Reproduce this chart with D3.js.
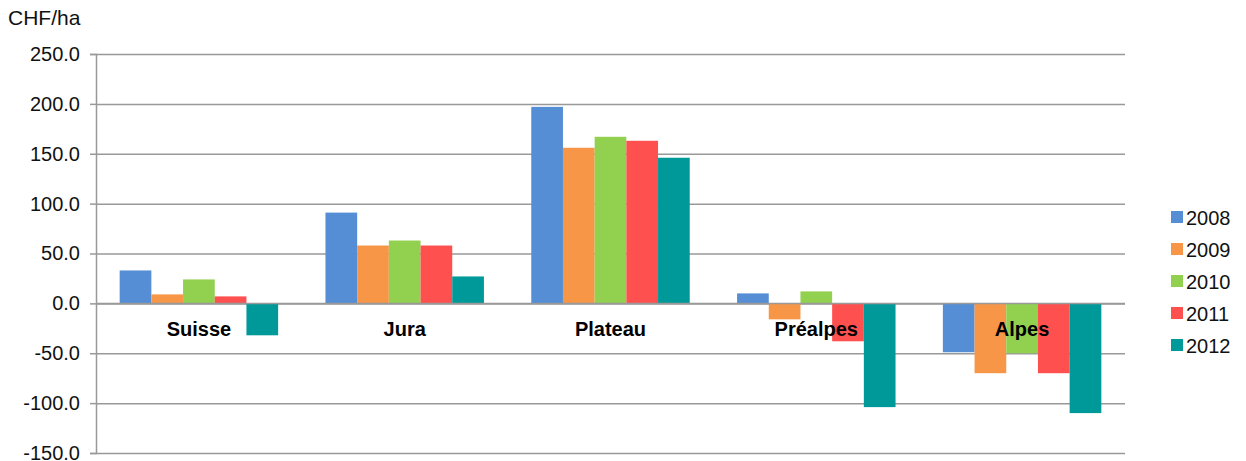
<!DOCTYPE html>
<html>
<head>
<meta charset="utf-8">
<style>
  body { margin: 0; background: #fff; font-family: 'Liberation Sans', Arial, sans-serif; }
  .grid line { stroke: #999; stroke-width: 1.5px; }
  .grid .domain { display: none; }
  .y .tick text { font-size: 20px; fill: #111; }
  .y .tick line { stroke: #999; stroke-width: 1.5px; }
  .y .domain { stroke: #999; stroke-width: 1.5px; }
  .cat { font-size: 20px; font-weight: bold; fill: #000; }
  .legend text { font-size: 20px; fill: #111; }
</style>
</head>
<body>
<svg width="1246" height="461"></svg>
<script src="https://d3js.org/d3.v7.min.js"></script>
<script>
  // data
  const regions = ["Suisse", "Jura", "Plateau", "Préalpes", "Alpes"];
  const years = ["2008", "2009", "2010", "2011", "2012"];
  const colors = ["#558ED5", "#F79646", "#92D050", "#FF5050", "#009999"];
  const v2008 = [33, 91, 197, 10, -49];
  const v2009 = [9, 58, 156, -16, -70];
  const v2010 = [24, 63, 167, 12, -50];
  const v2011 = [7, 58, 163, -38, -70];
  const v2012 = [-32, 27, 146, -104, -110];
  const yTicks = [-150, -100, -50, 0, 50, 100, 150, 200, 250];

  const series = [v2008, v2009, v2010, v2011, v2012];

  const svg = d3.select("svg");
  const margin = { top: 54, right: 121, bottom: 8, left: 96 };
  const width = 1246, height = 461;

  const x = d3.scaleBand()
    .domain(regions)
    .range([margin.left, width - margin.right])
    .paddingInner(0.23)
    .paddingOuter(0.115);

  const xs = d3.scaleBand()
    .domain(years)
    .range([0, x.bandwidth()]);

  const y = d3.scaleLinear()
    .domain([-150, 250])
    .range([height - margin.bottom, margin.top]);

  // gridlines
  svg.append("g")
    .attr("class", "grid")
    .attr("transform", `translate(${margin.left},0)`)
    .call(d3.axisRight(y).tickValues(yTicks).tickSize(width - margin.right - margin.left).tickFormat(""));

  // bars
  const groups = svg.append("g")
    .selectAll("g")
    .data(regions)
    .join("g")
    .attr("transform", d => `translate(${x(d)},0)`);

  groups.selectAll("rect")
    .data((d, i) => years.map((yr, j) => ({ yr, v: series[j][i], j })))
    .join("rect")
    .attr("x", d => xs(d.yr))
    .attr("width", xs.bandwidth())
    .attr("y", d => y(Math.max(0, d.v)))
    .attr("height", d => Math.abs(y(d.v) - y(0)))
    .attr("fill", d => colors[d.j]);

  // zero line on top
  svg.append("line")
    .attr("x1", margin.left).attr("x2", width - margin.right)
    .attr("y1", y(0)).attr("y2", y(0))
    .style("stroke", "#999").style("stroke-width", "1.5px");

  // y axis
  svg.append("g")
    .attr("class", "y axis")
    .attr("transform", `translate(${margin.left},0)`)
    .call(d3.axisLeft(y).tickValues(yTicks).tickSize(6).tickPadding(10))
    .call(g => g.selectAll(".tick text").text(d => d3.format(".1f")(d).replace("−", "-")));

  // category labels
  svg.append("g")
    .selectAll("text")
    .data(regions)
    .join("text")
    .attr("class", "cat")
    .attr("x", d => x(d) + x.bandwidth() / 2)
    .attr("y", y(0) + 33)
    .attr("text-anchor", "middle")
    .text(d => d);

  // unit label
  svg.append("text")
    .attr("x", 8).attr("y", 25)
    .style("font-size", "21px").style("fill", "#111")
    .text("CHF/ha");

  // legend
  const legend = svg.append("g")
    .attr("class", "legend")
    .attr("transform", "translate(1171,211)");

  const li = legend.selectAll("g")
    .data(years)
    .join("g")
    .attr("transform", (d, i) => `translate(0,${i * 32})`);

  li.append("rect")
    .attr("width", 12).attr("height", 12)
    .attr("fill", (d, i) => colors[i]);

  li.append("text")
    .attr("x", 15).attr("y", 13.5)
    .text(d => d);
</script>
</body>
</html>
